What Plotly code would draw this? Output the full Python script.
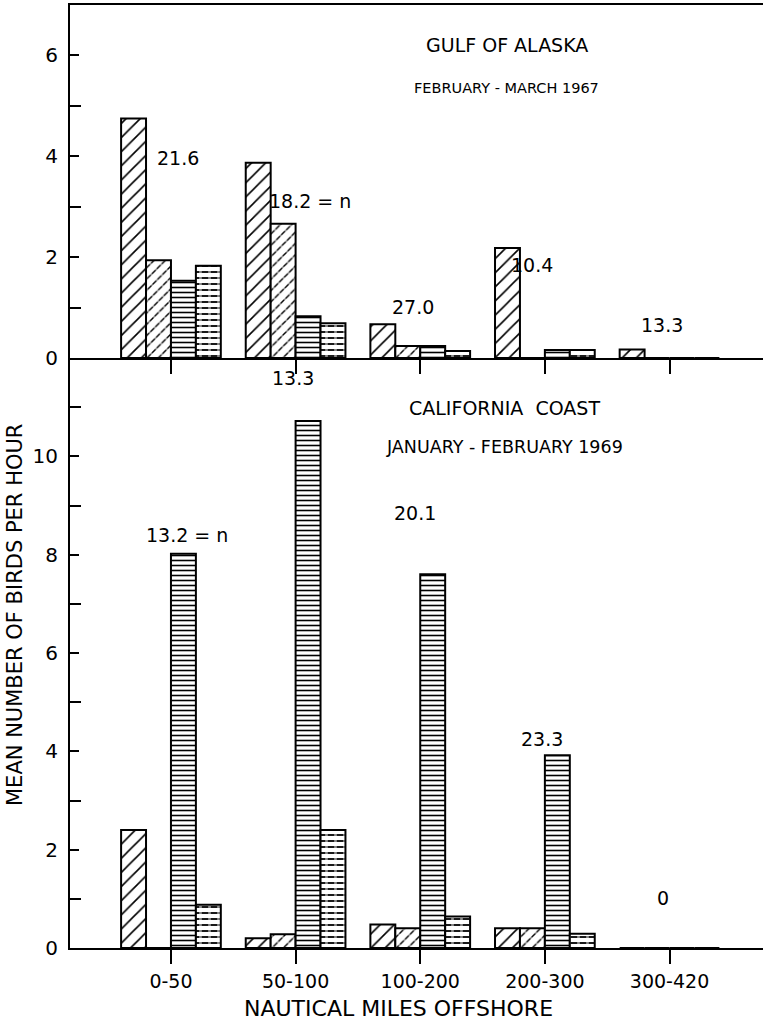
import plotly.graph_objects as go

categories = ["0-50", "50-100", "100-200", "200-300", "300-420"]

# Gulf of Alaska, February-March 1967 (four species groups)
alaska_s1 = [4.75, 3.87, 0.67, 2.18, 0.17]
alaska_s2 = [1.94, 2.66, 0.24, 0.0, 0.0]
alaska_s3 = [1.53, 0.83, 0.24, 0.16, 0.0]
alaska_s4 = [1.83, 0.69, 0.14, 0.16, 0.0]
alaska_n = ["21.6", "18.2 = n", "27.0", "10.4", "13.3"]

# California coast, January-February 1969
calif_s1 = [2.40, 0.20, 0.48, 0.40, 0.0]
calif_s2 = [0.0, 0.28, 0.40, 0.40, 0.0]
calif_s3 = [8.02, 10.72, 7.60, 3.92, 0.0]
calif_s4 = [0.88, 2.40, 0.64, 0.29, 0.0]
calif_n = ["13.2 = n", "13.3", "20.1", "23.3", "0"]

FONT = "DejaVu Sans"
W = 0.2
offsets = [-0.4, -0.2, 0.0, 0.2]

styles = [
    dict(base=dict(shape="/", size=10, solidity=0.16), over=None),
    dict(base=dict(shape="/", size=8, solidity=0.18), over=dict(shape="\\", size=7, solidity=0.3)),
    dict(base=dict(shape="-", size=5, solidity=0.32), over=None),
    dict(base=dict(shape="-", size=6, solidity=0.3), over=dict(shape="|", size=9, solidity=0.3)),
]

fig = go.Figure()


def add_series(values, idx, xa, ya):
    st = styles[idx]
    has_over = st["over"] is not None
    fig.add_trace(go.Bar(
        x=categories, y=values, width=W, offset=offsets[idx],
        xaxis=xa, yaxis=ya, showlegend=False, hoverinfo="skip",
        marker=dict(color="white",
                    line=dict(color="black", width=0 if has_over else 2),
                    pattern=dict(fgcolor="black", bgcolor="white", fillmode="replace", **st["base"])),
    ))
    if has_over:
        fig.add_trace(go.Bar(
            x=categories, y=values, width=W, offset=offsets[idx],
            xaxis=xa, yaxis=ya, showlegend=False, hoverinfo="skip",
            marker=dict(color="rgba(0,0,0,0)",
                        line=dict(color="black", width=2),
                        pattern=dict(fgcolor="white", fillmode="overlay", **st["over"])),
        ))


for i, s in enumerate([alaska_s1, alaska_s2, alaska_s3, alaska_s4]):
    add_series(s, i, "x", "y")
for i, s in enumerate([calif_s1, calif_s2, calif_s3, calif_s4]):
    add_series(s, i, "x2", "y2")

split = (948 - 358) / 943.0
xr = [-0.81, 4.75]

fig.update_layout(
    width=763, height=1020,
    margin=dict(l=70, r=0, t=5, b=72),
    paper_bgcolor="white", plot_bgcolor="white",
    barmode="overlay",
    font=dict(family=FONT, color="black", size=16),
    xaxis=dict(domain=[0, 1], anchor="y", type="category", range=xr, showline=True, mirror=True,
               linecolor="black", linewidth=2, ticks="outside", ticklen=14, tickwidth=2,
               tickcolor="black", showticklabels=False, showgrid=False, zeroline=False,
               fixedrange=True),
    yaxis=dict(domain=[split, 1], anchor="x", range=[0, 7], showline=True, linecolor="black",
               linewidth=2, ticks="inside", tickvals=[0, 2, 4, 6], ticklen=9, tickwidth=2,
               tickcolor="black", showgrid=False, zeroline=False, ticklabelstandoff=6,
               tickfont=dict(size=20, family=FONT),
               minor=dict(tickvals=[1, 3, 5], ticks="inside", ticklen=11, tickwidth=2,
                          tickcolor="black", showgrid=False)),
    xaxis2=dict(domain=[0, 1], anchor="y2", type="category", range=xr, showline=True,
                linecolor="black", linewidth=2, ticks="outside", ticklen=14, tickwidth=2,
                tickcolor="black", showgrid=False, zeroline=False, ticklabelstandoff=1,
                tickfont=dict(size=19, family=FONT), fixedrange=True),
    yaxis2=dict(domain=[0, split], anchor="x2", range=[0, 12], showline=True, linecolor="black",
                linewidth=2, ticks="inside", tickvals=[0, 2, 4, 6, 8, 10], ticklen=9, tickwidth=2,
                tickcolor="black", showgrid=False, zeroline=False, ticklabelstandoff=6,
                tickfont=dict(size=20, family=FONT),
                minor=dict(tickvals=[1, 3, 5, 7, 9, 11], ticks="inside", ticklen=11, tickwidth=2,
                           tickcolor="black", showgrid=False)),
)

ann = []
# panel titles
ann.append(dict(text="GULF OF ALASKA", x=2.695, y=6.21, xref="x", yref="y", font=dict(size=19)))
ann.append(dict(text="FEBRUARY - MARCH 1967", x=2.695, y=5.36, xref="x", yref="y", font=dict(size=14.5)))
ann.append(dict(text="CALIFORNIA  COAST", x=2.68, y=10.98, xref="x2", yref="y2", font=dict(size=19)))
ann.append(dict(text="JANUARY - FEBRUARY 1969", x=2.68, y=10.18, xref="x2", yref="y2", font=dict(size=17.5)))

# sample size labels
alaska_pos = [(0.056, 3.97), (1.115, 3.12), (1.94, 1.01), (2.895, 1.85), (3.94, 0.65)]
for t, (xx, yy) in zip(alaska_n, alaska_pos):
    ann.append(dict(text=t, x=xx, y=yy, xref="x", yref="y", font=dict(size=19)))
calif_pos = [(0.128, 8.39), (0.98, 11.59), (1.957, 8.84), (2.98, 4.25), (3.95, 1.02)]
for t, (xx, yy) in zip(calif_n, calif_pos):
    ann.append(dict(text=t, x=xx, y=yy, xref="x2", yref="y2", font=dict(size=19)))

# axis titles
ann.append(dict(text="NAUTICAL MILES OFFSHORE", x=(398 - 70) / 693.0, y=-(1008 - 948) / 943.0,
                xref="paper", yref="paper", font=dict(size=22)))
ann.append(dict(text="MEAN NUMBER OF BIRDS PER HOUR", x=(15 - 70) / 693.0, y=(948 - 615) / 943.0,
                xref="paper", yref="paper", textangle=-90, font=dict(size=21)))

for a in ann:
    a.setdefault("showarrow", False)
    a["xanchor"] = "center"
    a["yanchor"] = "middle"
    a["font"] = dict(family=FONT, color="black", **a["font"])
fig.update_layout(annotations=ann)

fig.write_html("out.html", config={"displayModeBar": False},
               post_script="document.body.style.margin='0';document.body.style.overflow='hidden';")
